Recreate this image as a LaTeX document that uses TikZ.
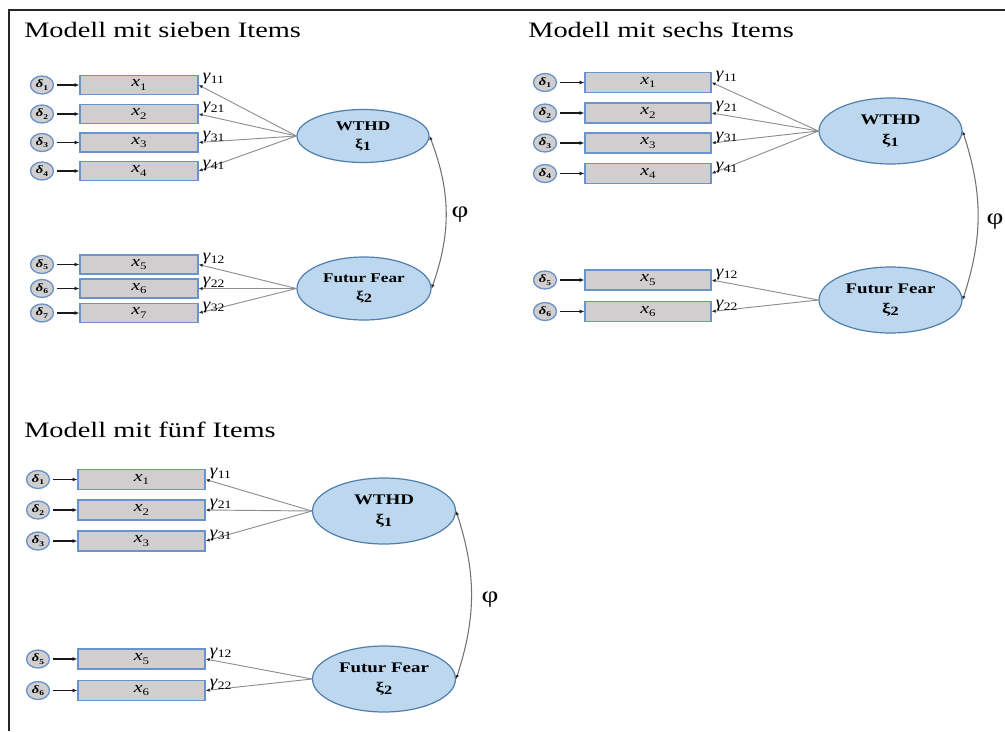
\documentclass[tikz,border=0pt]{standalone}
\usepackage{fontspec}
\setmainfont{Liberation Serif}
\usepackage{graphicx}
\usetikzlibrary{arrows.meta,shapes.geometric}

\definecolor{boxfill}{HTML}{D0CECE}
\definecolor{boxline}{HTML}{6A93C9}
\definecolor{latfill}{HTML}{BDD7EE}
\definecolor{latline}{HTML}{4F7FAE}
\definecolor{loadline}{HTML}{8E8E8E}

% wide glyphs, as in the original layout
\newcommand\hstretch[1]{\scalebox{1.29}[1]{#1}}
% indicator, error and loading symbols with their indices
\newcommand\obssym[1]{\hstretch{\textit{x}\raisebox{-0.45ex}{\fontsize{7.5}{8}\selectfont #1}}}
\newcommand\errsym[1]{\hstretch{\textbf{\textit{δ}}\raisebox{-0.45ex}{\bfseries\fontsize{5.5}{6}\selectfont #1}}}
\newcommand\loadsym[1]{\scalebox{1.2}[1]{\textit{γ}\raisebox{-0.35ex}{\fontsize{8.5}{9}\selectfont #1}}}
% latent variable symbol with its index
\newcommand\latsym[1]{ξ\raisebox{-0.35ex}{\fontsize{9.5}{10}\selectfont #1}}

\begin{document}
\begin{tikzpicture}[x=0.75pt,y=-0.75pt,
  frame/.style={draw=black!85,line width=1.1pt},
  title/.style={anchor=base west,inner sep=0pt,font=\fontsize{16.5}{18}\selectfont},
  obs/.style={rectangle,draw=boxline,fill=boxfill,line width=1pt,inner sep=0pt,
              font=\fontsize{11.5}{12}\selectfont},
  err/.style={ellipse,draw=boxline,fill=boxfill,line width=1pt,inner sep=0pt,
              minimum width=17.25pt,minimum height=13.5pt,font=\fontsize{8.5}{9}\selectfont},
  lat/.style={ellipse,draw=latline,fill=latfill,line width=0.9pt,inner sep=0pt,align=center},
  errarr/.style={draw=black!90,line width=1.1pt,shorten <=2pt,
                 -{Latex[length=3.5pt,width=3pt]}},
  load/.style={draw=loadline,line width=0.7pt,
               -{Latex[length=3pt,width=2.6pt,color=black!85]}},
  cov/.style={draw=loadline!80!black,line width=0.8pt,
              {Latex[length=3pt,width=2.6pt,color=black!85]}-{Latex[length=3pt,width=2.6pt,color=black!85]}},
  glab/.style={anchor=base west,inner sep=0pt,font=\fontsize{12}{13}\selectfont},
  philab/.style={inner sep=0pt,font=\fontsize{17}{19}\selectfont},
  latA/.style={lat,font=\fontsize{10}{13.5}\selectfont\bfseries},
  latB/.style={lat,minimum width=107.25pt,minimum height=49.5pt,
               font=\fontsize{11}{15}\selectfont\bfseries},
]
\useasboundingbox (0,0) rectangle (1005,731);

% outer frame (left and top edges)
\draw[frame] (9,731) -- (9,10) -- (1005,10);

% ---------------- model with seven items ----------------
\node[title] (t1) at (24,38) {\hstretch{Modell mit sieben Items}};

\foreach \i/\y in {1/85,2/114,3/142.5,4/171,5/264.5,6/288.5,7/313}{
  \node[obs,minimum width=88.5pt,minimum height=14.25pt] (a-x\i) at (139,\y) {\obssym{\i}};
  \node[err] (a-d\i) at (42,\y) {\errsym{\i}};
  \draw[errarr] (a-d\i) -- (a-x\i);
}

\node[latA,minimum width=99pt,minimum height=39.75pt]
  (a-w) at (363,136) {\hstretch{WTHD}\\\hstretch{\latsym{1}}};
\node[latA,minimum width=100.5pt,minimum height=47.25pt]
  (a-f) at (364,288.5) {\hstretch{Futur Fear}\\\hstretch{\latsym{2}}};

\foreach \i/\g in {1/11,2/21,3/31,4/41}{
  \draw[load] (a-w.west) -- (a-x\i.east);
  \node[glab] (a-g\i) at ([shift={(4,-4)}]a-x\i.east) {\loadsym{\g}};
}
\foreach \i/\g in {5/12,6/22,7/32}{
  \draw[load] (a-f.west) -- (a-x\i.east);
  \node[glab] (a-g\i) at ([shift={(4,-4)}]a-x\i.east) {\loadsym{\g}};
}
\draw[cov] (a-w.east) to[bend left=20] (a-f.east);
\node[philab] (a-phi) at (460,215) {\hstretch{φ}};

% ---------------- model with six items ----------------
\node[title] (t2) at (528,38) {\hstretch{Modell mit sechs Items}};

\foreach \i/\y in {1/82.5,2/113,3/143,4/173.5,5/280,6/311.5}{
  \node[obs,minimum width=94.5pt,minimum height=15pt] (b-x\i) at (648,\y) {\obssym{\i}};
  \node[err] (b-d\i) at (545,\y) {\errsym{\i}};
  \draw[errarr] (b-d\i) -- (b-x\i);
}

\node[latB] (b-w) at (890.5,131) {\hstretch{WTHD}\\\hstretch{\latsym{1}}};
\node[latB] (b-f) at (890.5,300) {\hstretch{Futur Fear}\\\hstretch{\latsym{2}}};

\foreach \i/\g in {1/11,2/21,3/31,4/41}{
  \draw[load] (b-w.west) -- (b-x\i.east);
  \node[glab] (b-g\i) at ([shift={(4,-4)}]b-x\i.east) {\loadsym{\g}};
}
\foreach \i/\g in {5/12,6/22}{
  \draw[load] (b-f.west) -- (b-x\i.east);
  \node[glab] (b-g\i) at ([shift={(4,-4)}]b-x\i.east) {\loadsym{\g}};
}
\draw[cov] (b-w.east) to[bend left=18] (b-f.east);
\node[philab] (b-phi) at (995,222) {\hstretch{φ}};

% ---------------- model with five items ----------------
\node[title] (t3) at (24,437) {\hstretch{Modell mit fünf Items}};

\foreach \i/\y in {1/479.5,2/510,3/541,5/659,6/690.5}{
  \node[obs,minimum width=95.25pt,minimum height=15pt] (c-x\i) at (141.5,\y) {\obssym{\i}};
  \node[err] (c-d\i) at (38,\y) {\errsym{\i}};
  \draw[errarr] (c-d\i) -- (c-x\i);
}

\node[latB] (c-w) at (384,511) {\hstretch{WTHD}\\\hstretch{\latsym{1}}};
\node[latB] (c-f) at (384,679) {\hstretch{Futur Fear}\\\hstretch{\latsym{2}}};

\foreach \i/\g in {1/11,2/21,3/31}{
  \draw[load] (c-w.west) -- (c-x\i.east);
  \node[glab] (c-g\i) at ([shift={(4,-4)}]c-x\i.east) {\loadsym{\g}};
}
\foreach \i/\g in {5/12,6/22}{
  \draw[load] (c-f.west) -- (c-x\i.east);
  \node[glab] (c-g\i) at ([shift={(4,-4)}]c-x\i.east) {\loadsym{\g}};
}
\draw[cov] (c-w.east) to[bend left=18] (c-f.east);
\node[philab] (c-phi) at (490,600) {\hstretch{φ}};

\end{tikzpicture}
\end{document}
